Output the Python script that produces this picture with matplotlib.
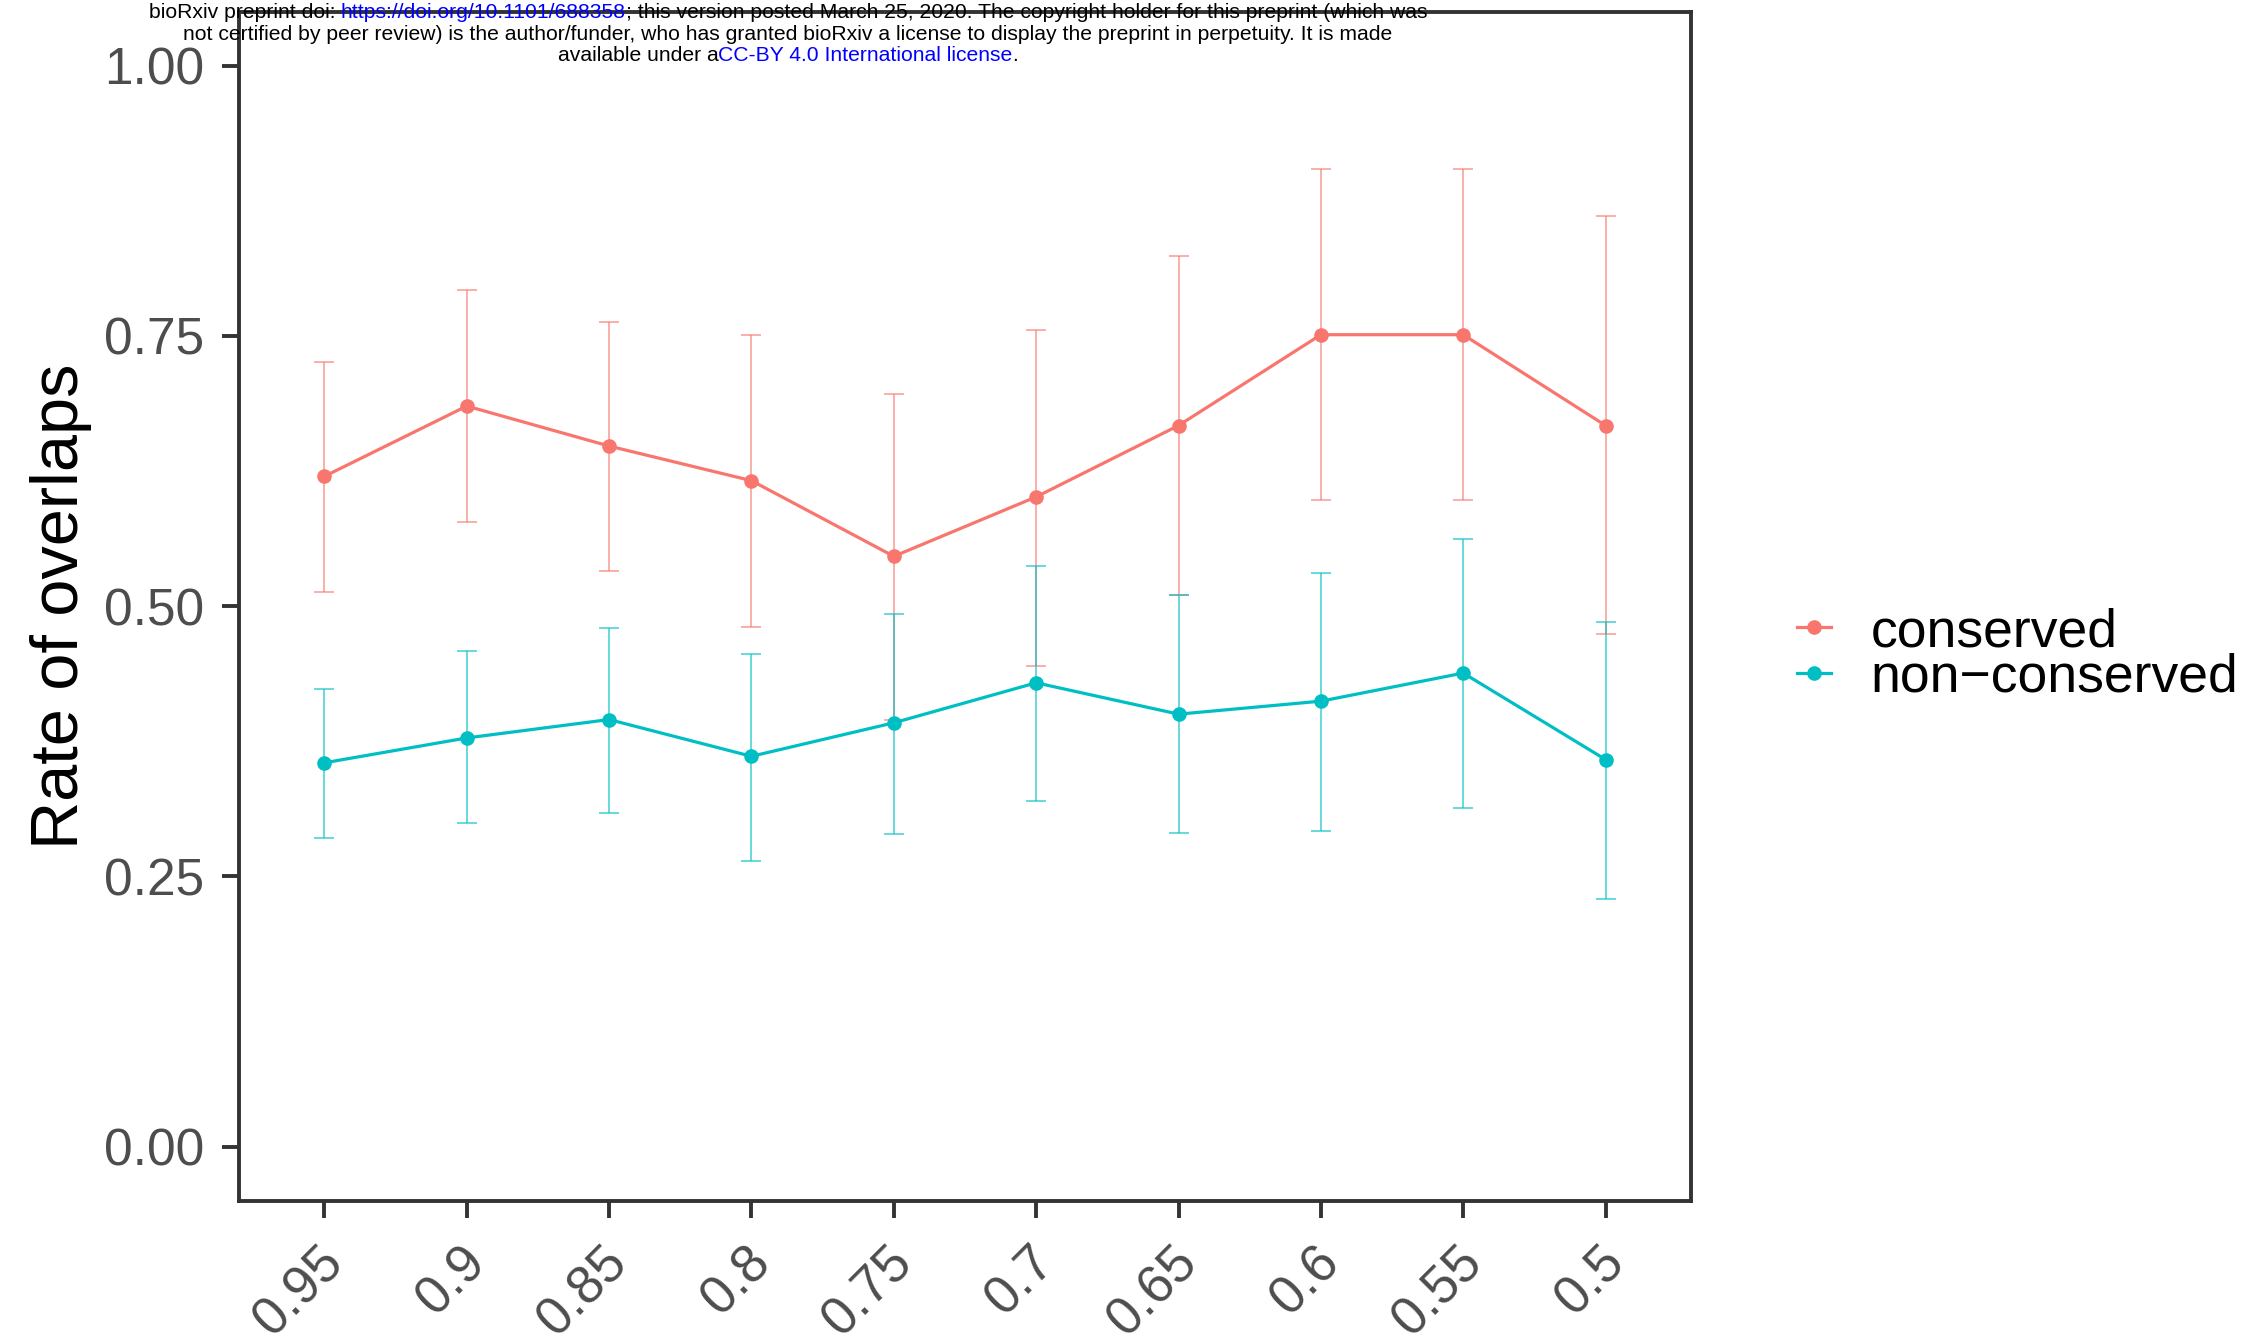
import matplotlib
matplotlib.use("Agg")
import matplotlib.pyplot as plt
import matplotlib.transforms as mtransforms
import numpy as np

plt.rcParams['font.family'] = ['Liberation Sans', 'DejaVu Sans']

# Similarity thresholds on the x axis
thresholds = ["0.95", "0.9", "0.85", "0.8", "0.75", "0.7", "0.65", "0.6", "0.55", "0.5"]
groups = ["conserved", "non\u2212conserved"]

# Mean rate of overlaps per threshold, with lower / upper interval bounds
conserved_mean = [0.620, 0.685, 0.648, 0.616, 0.546, 0.601, 0.667, 0.751, 0.751, 0.667]
conserved_low = [0.513, 0.578, 0.532, 0.481, 0.395, 0.445, 0.510, 0.598, 0.598, 0.474]
conserved_high = [0.726, 0.792, 0.763, 0.751, 0.696, 0.755, 0.824, 0.904, 0.904, 0.861]

nonconserved_mean = [0.355, 0.378, 0.395, 0.361, 0.392, 0.429, 0.400, 0.412, 0.438, 0.358]
nonconserved_low = [0.285, 0.299, 0.309, 0.264, 0.289, 0.320, 0.290, 0.292, 0.313, 0.229]
nonconserved_high = [0.423, 0.458, 0.480, 0.456, 0.493, 0.537, 0.510, 0.531, 0.562, 0.485]

colors = ["#F8766D", "#00BFC4"]
series = [
    (conserved_mean, conserved_low, conserved_high),
    (nonconserved_mean, nonconserved_low, nonconserved_high),
]

fig = plt.figure(figsize=(22.6, 13.42), dpi=100)
ax = fig.add_axes([239 / 2260, 1 - 1200.6 / 1342, (1691 - 239) / 2260, (1200.6 - 11.5) / 1342])

x = np.arange(1, len(thresholds) + 1)
handles = []
for (mean, low, high), col, name in zip(series, colors, groups):
    mean = np.array(mean)
    yerr = np.vstack([mean - np.array(low), np.array(high) - mean])
    ax.errorbar(x, mean, yerr=yerr, fmt="none", ecolor=col, elinewidth=1.1,
                capsize=7, capthick=1.1, alpha=0.75, zorder=2)
    h, = ax.plot(x, mean, color=col, lw=2.3, marker="o", markersize=10.5,
                 markeredgewidth=0, zorder=3, label=name)
    handles.append(h)

ax.set_xlim(0.4, 10.6)
ax.set_ylim(-0.05, 1.05)
ax.set_xticks(x)
ax.set_xticklabels(thresholds, rotation=45, ha="right", va="top",
                   rotation_mode="anchor", fontsize=38, color="#4D4D4D")
ax.set_yticks([0, 0.25, 0.5, 0.75, 1.0])
ax.set_yticklabels(["0.00", "0.25", "0.50", "0.75", "1.00"], fontsize=37, color="#4D4D4D")
ax.tick_params(axis="both", length=12, width=2.8, color="#333333")
ax.tick_params(axis="y", pad=13)
ax.tick_params(axis="x", pad=14.5)
shift = mtransforms.ScaledTranslation(-0.07, 0, fig.dpi_scale_trans)
for lab in ax.get_xticklabels():
    lab.set_transform(lab.get_transform() + shift)
for sp in ax.spines.values():
    sp.set_linewidth(2.8)
    sp.set_color("#333333")

ax.set_ylabel("Rate of overlaps", fontsize=48, color="black", labelpad=8.5)

leg = ax.legend(handles=handles, loc="center left",
                bbox_to_anchor=(1797 / 2260, 1 - 655 / 1342),
                bbox_transform=fig.transFigure, frameon=False, fontsize=38.5,
                borderpad=0, borderaxespad=0, handlelength=0.63,
                handletextpad=0.75, labelspacing=-0.08)

# Preprint notice printed across the top of the page
fig.canvas.draw()
renderer = fig.canvas.get_renderer()
hdr_size = 15.2
center_x = 788
lines = [
    [("bioRxiv preprint doi: ", "black"), ("https://doi.org/10.1101/688358", "blue"),
     ("; this version posted March 25, 2020. The copyright holder for this preprint (which was", "black")],
    [("not certified by peer review) is the author/funder, who has granted bioRxiv a license to display the preprint in perpetuity. It is made", "black")],
    [("available under a", "black"), ("CC-BY 4.0 International license", "blue"), (".", "black")],
]
line_y = [13, 34, 55.5]
for parts, ypix in zip(lines, line_y):
    widths = []
    for s, c in parts:
        t = fig.text(0, 0, s, fontsize=hdr_size)
        widths.append(t.get_window_extent(renderer).width)
        t.remove()
    total = sum(widths)
    xpix = center_x - total / 2
    for (s, c), w in zip(parts, widths):
        fig.text(xpix / 2260, 1 - ypix / 1342, s, fontsize=hdr_size, color=c,
                 ha="left", va="center", zorder=0)
        xpix += w

fig.savefig("out.png", dpi=100, facecolor="white")
